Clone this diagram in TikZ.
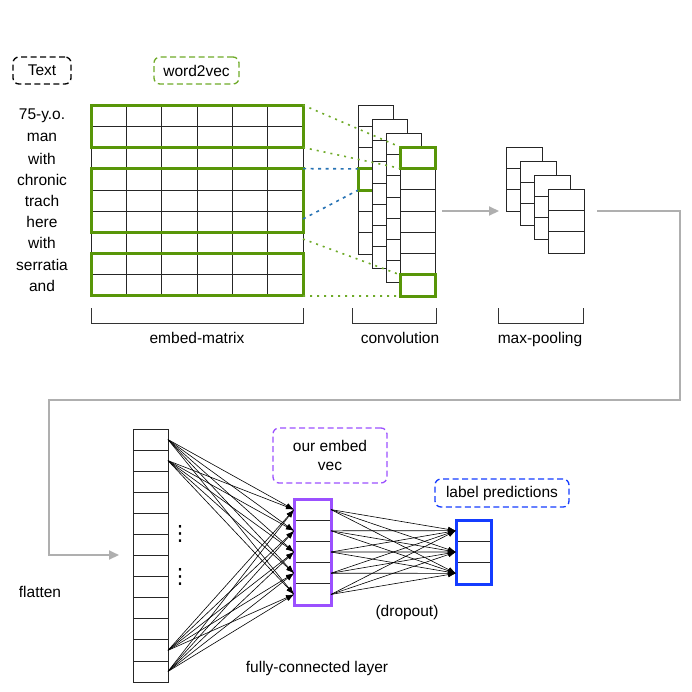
\documentclass[tikz,border=0pt]{standalone}
\usepackage{fontspec}
\setmainfont{Liberation Sans}
\newfontfamily\symfont{DejaVu Sans}
\usetikzlibrary{arrows.meta}
\definecolor{mgreen}{RGB}{88,150,8}
\definecolor{lgreen}{RGB}{110,170,40}
\definecolor{dblue}{RGB}{40,115,180}
\definecolor{mpurple}{RGB}{155,80,255}
\definecolor{mblue}{RGB}{20,60,255}
\definecolor{mgray}{RGB}{175,175,175}
\begin{document}
\begin{tikzpicture}[x=1pt,y=-1pt,
  font=\fontsize{15.5}{19}\selectfont,
  every node/.style={inner sep=0pt, outer sep=0pt},
  cell/.style={draw=black!85, line width=0.7pt, fill=white, anchor=north west},
  gbox/.style={draw=mgreen, line width=3pt, anchor=north west},
  dashbox/.style={draw, rounded corners=6pt, dash pattern=on 6pt off 3.5pt, line width=1.3pt},
  gdot/.style={draw=lgreen, line width=1.6pt, dash pattern=on 2pt off 5pt},
  bdot/.style={draw=dblue, line width=1.6pt, dash pattern=on 3pt off 4.5pt},
  flow/.style={draw=mgray, line width=2pt},
  fc/.style={draw=black, line width=0.6pt, -{Latex[length=8pt,width=5.5pt]}},
  bracket/.style={draw=black!80, line width=0.8pt},
  lbl/.style={anchor=center},
  blbl/.style={anchor=base}
]
\useasboundingbox (0,0) rectangle (692,691);

% ---- top labels
\node[dashbox, draw=black, minimum width=58pt, minimum height=27pt] (txt) at (42,70.5) {Text};
\node[dashbox, draw=lgreen, minimum width=85pt, minimum height=27pt] (w2v) at (196.5,70.5) {word2vec};

% ---- words
\foreach \w [count=\i from 0] in {75-y.o.,man,with,chronic,trach,here,with,serratia,and}
  \node[lbl] (w\i) at (42,{116+21.22*\i}) {\w};

% ---- embed matrix
\foreach \r in {0,...,8}
  \foreach \c in {0,...,5}
    \node[cell, minimum width=35.33pt, minimum height=21.22pt] (m\r-\c) at ({91+35.33*\c},{105+21.22*\r}) {};
\node[gbox, minimum width=212pt, minimum height=42.44pt] (h1) at (91,105) {};
\node[gbox, minimum width=212pt, minimum height=63.66pt] (h2) at (91,168.66) {};
\node[gbox, minimum width=212pt, minimum height=42.44pt] (h3) at (91,253.54) {};

% ---- convolution sheets (back sheet, its green mark, then the sheets in front)
\foreach \r in {0,...,6}
  \node[cell, minimum width=35.5pt, minimum height=21.29pt] (c0-\r) at (358,{105+21.29*\r}) {};
\node[gbox, minimum width=35.5pt, minimum height=21.29pt] (cb) at (358,168.87) {};
\foreach \k in {1,...,3}
  \foreach \r in {0,...,6}
    \node[cell, minimum width=35.5pt, minimum height=21.29pt] (c\k-\r) at ({358+14*\k},{105+14*\k+21.29*\r}) {};
\node[gbox, minimum width=35.5pt, minimum height=21.29pt] (ct) at (400,147) {};
\node[gbox, minimum width=35.5pt, minimum height=21.29pt] (cl) at (400,274.74) {};

% ---- dotted projections
\coordinate (hb1) at (303,219);
\coordinate (hg3) at (303,239);
\draw[gdot] (h1.north east) -- (ct.north west);
\draw[gdot] (h1.south east) -- (ct.south west);
\draw[bdot] (h2.north east) -- (cb.north west);
\draw[bdot] (hb1) -- (cb.south west);
\draw[gdot] (hg3) -- (cl.north west);
\draw[gdot] (h3.south east) -- (cl.south west);

% ---- max pooling sheets
\foreach \k in {0,...,3}
  \foreach \r in {0,...,2}
    \node[cell, minimum width=36pt, minimum height=21.3pt] (p\k-\r) at ({506+14*\k},{147+14*\k+21.3*\r}) {};

% ---- brackets and labels
\draw[bracket] (91,308) -- (91,323) -- (303,323) -- (303,308);
\draw[bracket] (352,308) -- (352,323) -- (436,323) -- (436,308);
\draw[bracket] (498,308) -- (498,323) -- (583,323) -- (583,308);
\node[blbl] (lem) at (197,343.5) {embed-matrix};
\node[blbl] (lcv) at (400,343.5) {convolution};
\node[blbl] (lmp) at (540,343.5) {max-pooling};

% ---- gray flow arrows
\coordinate (a1) at (442,211);
\coordinate (a2) at (499,211);
\draw[flow, -{Triangle[length=10pt,width=9pt]}] (a1) -- (a2);
\coordinate (r0) at (597,211);
\coordinate (r1) at (680,211);
\coordinate (r2) at (680,400);
\coordinate (r3) at (49,400);
\coordinate (r4) at (49,555);
\coordinate (r5) at (119,555);
\draw[flow, -{Triangle[length=10pt,width=9pt]}] (r0) -- (r1) -- (r2) -- (r3) -- (r4) -- (r5);

% ---- flatten column
\foreach \r in {0,...,11}
  \node[cell, minimum width=35pt, minimum height=21.08pt] (f\r) at (133,{429+21.08*\r}) {};
\node[lbl, font=\symfont\fontsize{21}{21}\selectfont] (dots1) at (180,534) {⋮};
\node[lbl, font=\symfont\fontsize{21}{21}\selectfont] (dots2) at (180,576.5) {⋮};
\node[blbl] (lfl) at (40,597) {flatten};

% ---- embed vector
\foreach \r in {0,...,4}
  \node[cell, minimum width=37pt, minimum height=21.2pt] (e\r) at (294,{499+21.2*\r}) {};
\node[draw=mpurple, line width=3pt, minimum width=37pt, minimum height=106pt, anchor=north west] (ebox) at (294,499) {};

% ---- prediction vector
\foreach \r in {0,...,2}
  \node[cell, minimum width=35pt, minimum height=21.33pt] (o\r) at (456,{520+21.33*\r}) {};
\node[draw=mblue, line width=3pt, minimum width=35pt, minimum height=64pt, anchor=north west] (obox) at (456,520) {};

% ---- fully connected arrows
\foreach \s in {0,1,10,11}
  \foreach \t in {0,...,4}
    \draw[fc] (f\s.east) -- (e\t.west);
\foreach \s in {0,...,4}
  \foreach \t in {0,...,2}
    \draw[fc] (e\s.east) -- (o\t.west);

% ---- annotation boxes
\node[dashbox, draw=mpurple, minimum width=114pt, minimum height=55pt, align=center] (emb) at (330,455.5) {our embed\\vec};
\node[dashbox, draw=mblue, minimum width=134pt, minimum height=28pt] (lp) at (502,493) {label predictions};
\node[lbl] (ldo) at (407,612) {(dropout)};
\node[lbl] (lfc) at (317,668) {fully-connected layer};
\end{tikzpicture}
\end{document}
